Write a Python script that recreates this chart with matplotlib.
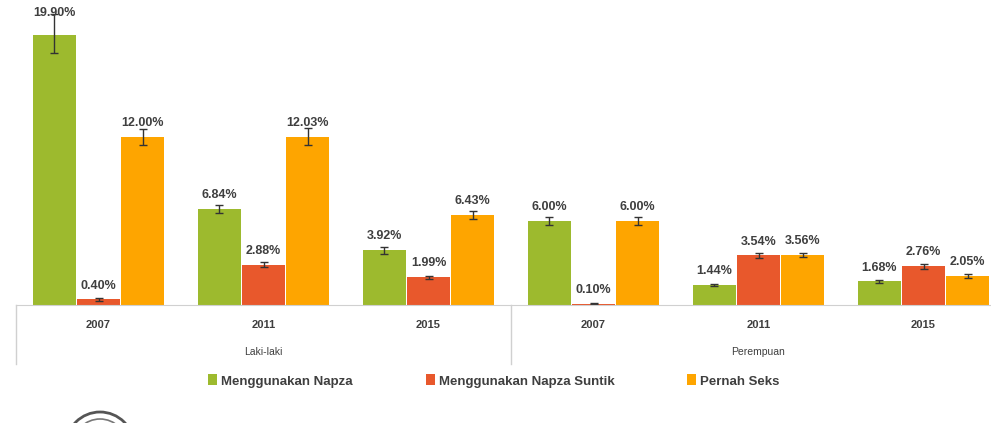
import numpy as np
from matplotlib import pyplot as plt
from matplotlib.patches import Ellipse

groups = ['Laki-laki', 'Perempuan']
years = ['2007', '2011', '2015', '2007', '2011', '2015']
series = ['Menggunakan Napza', 'Menggunakan Napza Suntik', 'Pernah Seks']

napza = [19.90, 6.84, 3.92, 6.00, 1.44, 1.68]
suntik = [0.40, 2.88, 1.99, 0.10, 3.54, 2.76]
seks = [12.00, 12.03, 6.43, 6.00, 3.56, 2.05]

# error bar sizes: lower, upper
napza_err = [[1.9, 0.3, 0.25, 0.3, 0.05, 0.08],
             [0.9, 0.3, 0.25, 0.3, 0.05, 0.08]]
suntik_err = [0.1, 0.2, 0.1, 0.05, 0.15, 0.2]
seks_err = [0.6, 0.6, 0.3, 0.3, 0.15, 0.15]

colors = ['#9dba2e', '#e8582c', '#fea500']
label_color = '#3f3f3f'

plt.rcParams['font.family'] = ['Liberation Sans', 'DejaVu Sans']

fig = plt.figure(figsize=(9.91, 4.23), dpi=100)
ax = fig.add_axes([16 / 991, 118 / 423, 975 / 991, 270 / 423])

x = np.arange(len(years))
width = 0.26
offsets = [-0.267, 0, 0.267]
data = [napza, suntik, seks]
errs = [napza_err, suntik_err, seks_err]

for vals, err, off, col, name in zip(data, errs, offsets, colors, series):
    ax.bar(x + off, vals, width, color=col, label=name)
    ax.errorbar(x + off, vals, yerr=err, fmt='none', ecolor='#333333',
                elinewidth=1, capsize=3, capthick=1, clip_on=False)
    for xi, v in zip(x + off, vals):
        ax.annotate('%.2f%%' % v, (xi, v), xytext=(0, 10),
                    textcoords='offset points', ha='center', va='center',
                    fontsize=9, fontweight='bold', color=label_color,
                    annotation_clip=False)

ax.set_xlim(-0.5, -0.5 + 975 / 165)
ax.set_ylim(0, 19.29)
ax.set_yticks([])
ax.set_xticks([])
for s in ['top', 'right', 'left']:
    ax.spines[s].set_visible(False)
ax.spines['bottom'].set_color('#d0d0d0')

trans = ax.get_xaxis_transform()
for xi, yr in zip(x, years):
    ax.text(xi, -0.074, yr, transform=trans, ha='center', va='center',
            fontsize=8, fontweight='bold', color=label_color)
for i, g in enumerate(groups):
    ax.text(1 + 3 * i, -0.174, g, transform=trans, ha='center', va='center',
            fontsize=7.5, color=label_color)
for sep in [-0.5, 2.5]:
    ax.plot([sep, sep], [0, -0.22], transform=trans, color='#d0d0d0',
            lw=1, clip_on=False)

fig.legend(loc='center', bbox_to_anchor=(494 / 991, 1 - 381 / 423), ncol=3,
           frameon=False, handlelength=0.7, handleheight=0.9,
           handletextpad=0.3, columnspacing=5.5,
           prop={'size': 9.5, 'weight': 'bold'}, labelcolor=label_color)

# partial logo at bottom left
for r, lw, c in [(34, 2, '#555555'), (27, 1.2, '#777777')]:
    fig.patches.append(Ellipse((100 / 991, 1 - 446 / 423), 2 * r / 991,
                               2 * r / 423, transform=fig.transFigure,
                               fill=False, ec=c, lw=lw))

plt.savefig('out.png', dpi=100)
